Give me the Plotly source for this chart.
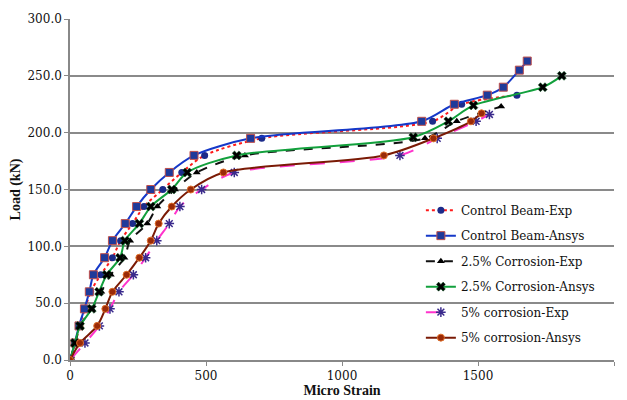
import plotly.graph_objects as go

# ---- data (strain in micro-strain, load in kN) ----
cb_exp_strain = [0, 20, 35, 55, 76, 113, 156, 186, 230, 272, 341, 411, 495, 705, 1333, 1440, 1643]
cb_exp_load   = [0, 15, 30, 45, 60, 75, 90, 105, 120, 135, 150, 165, 180, 195, 210, 225, 233]

cb_ans_strain = [0, 18, 33, 53, 71, 86, 127, 156, 203, 245, 297, 365, 456, 664, 1293, 1413, 1534, 1593, 1652, 1681]
cb_ans_load   = [0, 15, 30, 45, 60, 75, 90, 105, 120, 135, 150, 165, 180, 195, 210, 225, 233, 240, 255, 263]

c25_exp_strain = [0, 20, 36, 80, 115, 150, 200, 221, 284, 321, 386, 466, 643, 1305, 1422, 1585]
c25_exp_load   = [0, 15, 30, 45, 60, 75, 90, 105, 120, 135, 150, 165, 180, 195, 210, 223]

c25_ans_strain = [0, 18, 37, 80, 107, 135, 184, 202, 255, 297, 374, 431, 613, 1262, 1391, 1483, 1738, 1808]
c25_ans_load   = [0, 15, 30, 45, 60, 75, 90, 105, 120, 135, 150, 165, 180, 196, 210, 224, 240, 250]

c5_exp_strain = [0, 55, 108, 147, 180, 233, 278, 319, 365, 404, 484, 604, 1213, 1350, 1493, 1542]
c5_exp_load   = [0, 15, 30, 45, 60, 75, 90, 105, 120, 135, 150, 165, 180, 195, 210, 216]

c5_ans_strain = [0, 37, 100, 130, 156, 208, 255, 297, 326, 374, 444, 564, 1154, 1336, 1474, 1513]
c5_ans_load   = [0, 15, 30, 45, 60, 75, 90, 105, 120, 135, 150, 165, 180, 195, 210, 217]

x_ticks = [0, 500, 1000, 1500, 2000]
y_ticks = [0, 50, 100, 150, 200, 250, 300]
y_tick_labels = ["0.0", "50.0", "100.0", "150.0", "200.0", "250.0", "300.0"]

FONT = "Liberation Serif"
REG = "DejaVu Serif"

series = [
    dict(name="Control Beam-Exp", x=cb_exp_strain, y=cb_exp_load,
         line=dict(color="#FF1A1A", width=2, dash="dot"),
         marker=dict(symbol="circle", size=7, color="#1C2B8A", line=dict(width=0))),
    dict(name="Control Beam-Ansys", x=cb_ans_strain, y=cb_ans_load,
         line=dict(color="#1538C8", width=2, dash="solid"),
         marker=dict(symbol="square", size=8, color="#1F3A9A", line=dict(color="#C0504D", width=1))),
    dict(name="2.5% Corrosion-Exp", x=c25_exp_strain, y=c25_exp_load,
         line=dict(color="#111111", width=2, dash="dash"),
         marker=dict(symbol="triangle-up", size=7, color="#000000", line=dict(width=0))),
    dict(name="2.5% Corrosion-Ansys", x=c25_ans_strain, y=c25_ans_load,
         line=dict(color="#12A03C", width=2, dash="solid"),
         marker=dict(symbol="x", size=8, color="#000000", line=dict(color="#0B5A22", width=0.5))),
    dict(name="5% corrosion-Exp", x=c5_exp_strain, y=c5_exp_load,
         line=dict(color="#FF33CC", width=2, dash="longdash"),
         marker=dict(symbol="asterisk-open", size=8, color="#3A2A8C", line=dict(color="#3A2A8C", width=1.5))),
    dict(name="5% corrosion-Ansys", x=c5_ans_strain, y=c5_ans_load,
         line=dict(color="#7A1A05", width=2, dash="solid"),
         marker=dict(symbol="circle", size=7, color="#9A2A08", line=dict(color="#E0702A", width=1))),
]

fig = go.Figure()
for i, s in enumerate(series):
    fig.add_trace(go.Scatter(
        x=s["x"], y=s["y"], name=s["name"], mode="lines+markers",
        line=dict(shape="spline", smoothing=0.8, **s["line"]),
        marker=s["marker"], legendgroup=f"g{i}",
    ))

fig.update_layout(
    width=627, height=400,
    margin=dict(l=70, r=13, t=19, b=40),
    paper_bgcolor="white", plot_bgcolor="white",
    font=dict(family=REG, size=13, color="#111111"),
    showlegend=True,
    legend=dict(x=0.645, y=0.482, xanchor="left", yanchor="top",
                bgcolor="rgba(0,0,0,0)", font=dict(family=REG, size=12, color="#111111"),
                tracegroupgap=6.5, itemwidth=30),
    xaxis=dict(range=[0, 2000], tickvals=x_ticks, showgrid=False, zeroline=False,
               showline=True, linecolor="#888888", linewidth=1.5,
               ticks="outside", ticklen=4, tickcolor="#888888",
               tickfont=dict(family=REG, size=12), automargin=False,
               title=dict(text="<b>Micro Strain</b>", font=dict(family=FONT, size=14), standoff=2)),
    yaxis=dict(range=[0, 300], tickvals=y_ticks, ticktext=y_tick_labels,
               showgrid=True, gridcolor="#8A8A8A", gridwidth=1.5, zeroline=False,
               showline=True, linecolor="#888888", linewidth=1.5,
               ticks="outside", ticklen=4, tickcolor="#888888",
               tickfont=dict(family=REG, size=12), automargin=False,
               title=dict(text="<b>Load (kN)</b>", font=dict(family=FONT, size=14), standoff=4)),
)

fig.write_html("out.html")
